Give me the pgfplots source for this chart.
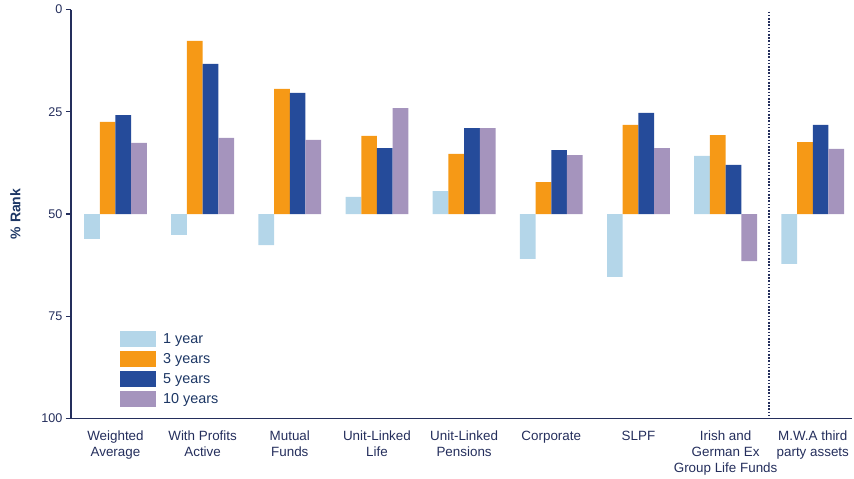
\documentclass[border=0pt]{standalone}
\usepackage{pgfplots}
\pgfplotsset{compat=1.18}
\usepackage{fontspec}
\setmainfont{Liberation Sans}
\definecolor{navy}{RGB}{36,46,92}
\definecolor{labblue}{RGB}{28,54,100}
\definecolor{c1}{RGB}{180,214,233}
\definecolor{c3}{RGB}{246,153,22}
\definecolor{c5}{RGB}{37,75,154}
\definecolor{c10}{RGB}{165,148,189}

\begin{document}
\begin{tikzpicture}
\begin{axis}[
    name=ax,
    scale only axis,
    width=781pt, height=409pt,
    ybar=0pt, bar width=15.7pt,
    every axis plot post/.append style={
        legend image code/.code={\fill[#1] (0pt,-8pt) rectangle (36pt,8pt); \path (41pt,0pt);}},
    xmin=-0.51, xmax=8.45,
    ymin=-50, ymax=50,
    y dir=reverse,
    y filter/.expression={y-50},
    ytick={-50,-25,0,25,50},
    yticklabels={0,25,50,75,100},
    xtick={0,...,8},
    xticklabels={Weighted\\Average, With Profits\\Active, Mutual\\Funds, Unit-Linked\\Life,
        Unit-Linked\\Pensions, Corporate, SLPF, Irish and\\German Ex\\Group Life Funds,
        M.W.A third\\party assets},
    xticklabel style={align=center, font=\fontsize{13.4}{16}\selectfont, text=navy, yshift=-4pt},
    yticklabel style={font=\fontsize{12.6}{14}\selectfont, text=navy},
    x tick style={draw=none},
    y tick style={navy, line width=1.2pt},
    tick align=outside,
    major tick length=5pt,
    axis x line*=bottom, axis y line*=left,
    axis line style={navy, line width=1.4pt, -},
    ylabel={\textbf{\% Rank}},
    ylabel style={font=\fontsize{14}{16}\selectfont, text=labblue, yshift=14pt},
    legend style={at={(0.0627,0.214)}, anchor=north west, draw=none, fill=none,
        inner sep=0pt, row sep=4pt, font=\fontsize{14.4}{16}\selectfont, text=labblue},
    legend cell align=left,
]
\addplot[fill=c1, draw=none] coordinates {
    (0,56.1) (1,55.1) (2,57.6) (3,45.8) (4,44.4) (5,61.0) (6,65.4) (7,35.8) (8,62.2)};
\addlegendentry{1 year}
\addplot[fill=c3, draw=none] coordinates {
    (0,27.5) (1,7.7) (2,19.4) (3,30.9) (4,35.3) (5,42.2) (6,28.2) (7,30.7) (8,32.4)};
\addlegendentry{3 years}
\addplot[fill=c5, draw=none] coordinates {
    (0,25.8) (1,13.3) (2,20.4) (3,33.9) (4,29.0) (5,34.4) (6,25.3) (7,38.0) (8,28.2)};
\addlegendentry{5 years}
\addplot[fill=c10, draw=none] coordinates {
    (0,32.6) (1,31.4) (2,31.9) (3,24.1) (4,29.0) (5,35.6) (6,33.9) (7,61.5) (8,34.1)};
\addlegendentry{10 years}
\draw[navy, line width=1.6pt, dash pattern=on 1.6pt off 1.6pt]
    ({axis cs:7.5,0}|-{rel axis cs:0,0.995}) -- ({axis cs:7.5,0}|-{rel axis cs:0,0});
\end{axis}
\pgfresetboundingbox
\path[use as bounding box] ([xshift=-71pt,yshift=-60.5pt]ax.south west)
    rectangle ([xshift=2pt,yshift=9.5pt]ax.north east);
\end{tikzpicture}
\end{document}
